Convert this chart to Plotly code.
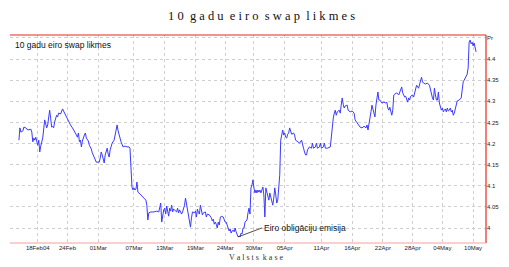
import plotly.graph_objects as go

# time index (chart sessions) and 10y EUR swap rate values
t_idx = [9,10,11,13,14,16,18,21,22,23,24,25,26,27,28,29,30,31,32,33,35,36,37,38,40,41,42,43,44,45,47,48,49,51,52,53,54,55,57,59,61,63,65,67,68,69,70,71,72,73,75,76,77,79,80,82,83,85,87,89,90,91,92,93,94,95,96,97,98,99,100,101,103,105,107,108,109,110,111,112,114,116,118,120,121,122,123,124,125,126,127,128,129,130,132,134,135,137,138,139,140,142,145,148,150,152,153,154,155,156,157,158,159,160,161,162,163,164,165,166,168,169,170,171,173,174,176,177,178,179,180,181,182,183,184,186,187,188,189,190,191,192,193,194,195,197,198,199,201,203,204,205,206,207,208,209,210,211,212,213,215,217,218,219,220,221,222,223,224,225,226,227,228,229,230,231,232,233,234,235,236,237,238,239,240,241,242,243,244,245,246,247,248,249,250,251,252,253,254,255,256,257,258,259,260,261,262,263,264,265,266,267,268,269,270,271,272,273,274,275,276,277,278,279,280,281,282,283,284,286,287,288,290,292,294,295,296,297,298,299,300,302,304,305,306,308,309,310,312,313,314,316,317,318,320,323,324,325,326,327,328,329,330,332,333,334,335,336,337,338,340,341,343,345,347,348,350,352,353,355,357,359,360,361,363,364,365,366,367,368,369,370,371,372,373,375,377,379,380,381,382,383,384,385,386,387,388,390,392,393,394,395,396,397,398,399,400,401,402,403,404,406,407,409,410,412,413,414,415,416,417,419,421,423,424,425,426,427,428,429,430,431,432,433,434,435,436,437,438,439,440,441,442,443,444,445,446,447,448,449,450,451,453,454,455,456,457,458,459,460,461,462,463,464,465,466,467,468,469,470]
rate = [4.208,4.237,4.227,4.230,4.239,4.237,4.232,4.234,4.227,4.204,4.213,4.208,4.215,4.206,4.196,4.208,4.180,4.194,4.201,4.213,4.256,4.241,4.237,4.244,4.279,4.260,4.239,4.241,4.237,4.251,4.267,4.263,4.272,4.270,4.275,4.282,4.277,4.272,4.260,4.251,4.244,4.237,4.230,4.220,4.215,4.225,4.204,4.208,4.192,4.206,4.220,4.225,4.213,4.206,4.196,4.187,4.178,4.166,4.156,4.156,4.156,4.166,4.180,4.173,4.161,4.154,4.173,4.185,4.189,4.175,4.168,4.185,4.201,4.208,4.232,4.244,4.230,4.220,4.208,4.204,4.192,4.194,4.192,4.192,4.189,4.130,4.097,4.090,4.095,4.090,4.092,4.109,4.085,4.083,4.078,4.073,4.071,4.066,4.054,4.019,4.036,4.038,4.038,4.040,4.038,4.059,4.014,4.031,4.043,4.047,4.033,4.052,4.043,4.028,4.047,4.040,4.054,4.038,4.045,4.043,4.038,4.047,4.036,4.043,4.033,4.038,4.054,4.071,4.057,4.043,4.038,4.021,4.002,4.024,4.038,4.036,4.040,4.026,4.045,4.036,4.033,4.054,4.038,4.031,4.036,4.038,4.026,4.033,4.031,4.024,4.017,4.021,4.009,4.014,4.009,4.000,4.014,4.007,4.024,4.028,4.026,4.014,4.014,4.005,4.000,3.993,3.998,3.988,3.993,3.995,3.991,4.000,3.991,3.983,3.979,3.981,3.979,3.988,3.986,4.000,4.000,4.014,4.017,4.019,4.036,4.047,4.033,4.095,4.102,4.114,4.095,4.083,4.090,4.083,4.090,4.085,4.090,4.083,4.090,4.097,4.078,4.026,4.095,4.083,4.078,4.066,4.083,4.071,4.066,4.054,4.071,4.095,4.078,4.059,4.066,4.090,4.125,4.208,4.225,4.232,4.220,4.225,4.215,4.213,4.222,4.225,4.237,4.227,4.222,4.225,4.220,4.208,4.204,4.201,4.208,4.201,4.189,4.180,4.173,4.173,4.185,4.192,4.189,4.201,4.189,4.192,4.201,4.189,4.192,4.201,4.189,4.192,4.201,4.189,4.189,4.192,4.220,4.249,4.260,4.272,4.279,4.267,4.275,4.279,4.272,4.291,4.308,4.293,4.284,4.289,4.291,4.279,4.275,4.277,4.272,4.256,4.249,4.244,4.239,4.237,4.241,4.237,4.244,4.232,4.256,4.275,4.291,4.279,4.272,4.263,4.291,4.315,4.322,4.303,4.303,4.296,4.298,4.296,4.298,4.284,4.279,4.286,4.272,4.267,4.279,4.315,4.317,4.320,4.315,4.320,4.327,4.334,4.320,4.315,4.310,4.312,4.303,4.298,4.308,4.303,4.312,4.315,4.310,4.327,4.338,4.331,4.341,4.350,4.357,4.346,4.343,4.341,4.343,4.338,4.327,4.315,4.308,4.303,4.331,4.315,4.303,4.303,4.322,4.296,4.286,4.279,4.284,4.275,4.279,4.282,4.275,4.284,4.277,4.279,4.284,4.275,4.279,4.267,4.272,4.284,4.298,4.301,4.303,4.305,4.308,4.327,4.346,4.350,4.355,4.362,4.364,4.379,4.440,4.445,4.436,4.440,4.431,4.438,4.426,4.417]

x_tickvals = [28, 58, 89, 125, 156, 187, 217, 246, 277, 314, 345, 376, 406, 436, 467]
x_ticktext = ["18Feb04", "24Feb", "01Mar", "07Mar", "13Mar", "19Mar", "24Mar", "30Mar",
              "05Apr", "11Apr", "16Apr", "22Apr", "28Apr", "04May", "10May"]
y_tickvals = [4.0, 4.05, 4.1, 4.15, 4.2, 4.25, 4.3, 4.35, 4.4, 4.45]
y_ticktext = ["4", "4.05", "4.1", "4.15", "4.2", "4.25", "4.3", "4.35", "4.4", "Pr"]

title = "10 gadu eiro swap likmes"
source = "Valsts kase"
event_label = "Eiro obligāciju emisija"

def spaced(s):
    return "  ".join(" ".join(w) for w in s.split(" "))

fig = go.Figure()
fig.add_trace(go.Scatter(x=t_idx, y=rate, mode="lines",
                         line=dict(color="#3a3aff", width=1), hoverinfo="skip"))

i_min = rate.index(min(rate))

fig.update_layout(
    width=509, height=267,
    margin=dict(l=10, r=19, t=35, b=24),
    paper_bgcolor="white", plot_bgcolor="white",
    showlegend=False,
    font=dict(family="Liberation Sans, Arial", color="#222"),
    xaxis=dict(range=[0, 480], tickvals=x_tickvals, ticktext=x_ticktext,
               showgrid=True, gridcolor="#cfcfcf", griddash="dot", gridwidth=1,
               zeroline=False, showline=False, ticks="",
               tickfont=dict(size=6, color="#222"), fixedrange=True),
    yaxis=dict(range=[3.9645, 4.457], side="right", tickvals=y_tickvals, ticktext=y_ticktext,
               showgrid=True, gridcolor="#cfcfcf", griddash="dot", gridwidth=1,
               zeroline=False, showline=False, ticks="",
               tickfont=dict(size=6, color="#222"), fixedrange=True),
    shapes=[
        dict(type="line", xref="paper", yref="paper", x0=0, x1=1, y0=1, y1=1,
             line=dict(color="#e8281e", width=1.2)),
        dict(type="line", xref="paper", yref="paper", x0=1, x1=1, y0=0, y1=1,
             line=dict(color="#e8281e", width=1.2)),
        dict(type="line", xref="paper", yref="paper", x0=0, x1=1, y0=0, y1=0,
             line=dict(color="#f4a0a0", width=1.2)),
    ],
    annotations=[
        dict(text=spaced(title), xref="paper", yref="paper", x=0.528, y=1.091,
             showarrow=False, xanchor="center", yanchor="middle",
             font=dict(family="Liberation Serif, Times New Roman", size=12.5, color="#111")),
        dict(text=title, xref="paper", yref="paper", x=0.006, y=0.952,
             showarrow=False, xanchor="left", yanchor="middle",
             font=dict(family="Liberation Sans, Arial", size=8.5, color="#111")),
        dict(text=spaced(source), xref="paper", yref="paper", x=0.517, y=-0.072,
             showarrow=False, xanchor="center", yanchor="middle",
             font=dict(family="Liberation Serif, Times New Roman", size=8, color="#333")),
        dict(text=event_label, x=t_idx[i_min], y=rate[i_min], xref="x", yref="y",
             showarrow=True, arrowhead=0, arrowwidth=0.8, arrowcolor="#222",
             ax=24, ay=-9, xanchor="left", yanchor="middle",
             font=dict(family="Liberation Sans, Arial", size=8.5, color="#111")),
    ],
)

fig.write_html("out.html")
